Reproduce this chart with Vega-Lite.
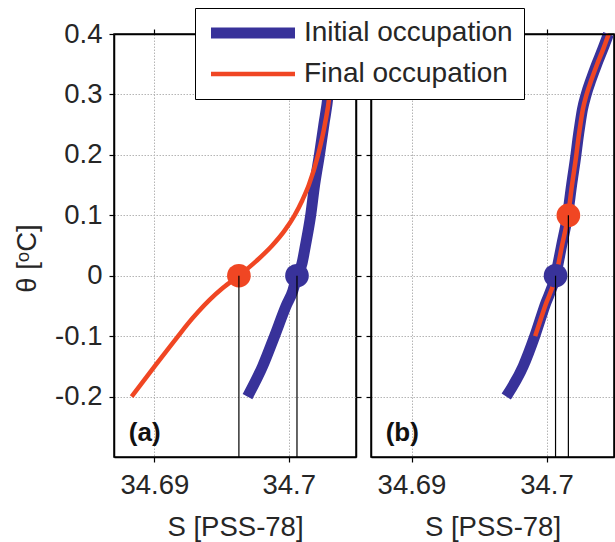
{
  "$schema": "https://vega.github.io/schema/vega-lite/v6.json",
  "padding": {"left": 12, "top": 7, "right": 0, "bottom": 0},
  "spacing": 15,
  "bounds": "flush",
  "background": "white",
  "config": {
    "font": "Liberation Sans",
    "view": {"stroke": "#000", "strokeWidth": 1.5},
    "axis": {
      "labelFont": "Liberation Sans", "titleFont": "Liberation Sans",
      "labelFontSize": 27.5, "titleFontSize": 27.5,
      "labelColor": "#262626", "titleColor": "#262626", "titleFontWeight": "normal",
      "tickColor": "#000", "tickSize": 5, "tickWidth": 1.2,
      "domain": true, "domainColor": "#000", "domainWidth": 1.5,
      "gridColor": "#b5b5b5", "gridDash": [1.5, 1.5], "gridWidth": 1, "labelPadding": 9
    }
  },
  "datasets": {
    "lines_a": [
      {"series": "Initial occupation", "S": 34.69693, "theta": -0.2},
      {"series": "Initial occupation", "S": 34.69805, "theta": -0.15},
      {"series": "Initial occupation", "S": 34.69894, "theta": -0.1},
      {"series": "Initial occupation", "S": 34.69980, "theta": -0.05},
      {"series": "Initial occupation", "S": 34.70030, "theta": -0.025},
      {"series": "Initial occupation", "S": 34.70061, "theta": 0},
      {"series": "Initial occupation", "S": 34.70098, "theta": 0.02},
      {"series": "Initial occupation", "S": 34.70124, "theta": 0.05},
      {"series": "Initial occupation", "S": 34.70163, "theta": 0.1},
      {"series": "Initial occupation", "S": 34.70192, "theta": 0.15},
      {"series": "Initial occupation", "S": 34.70228, "theta": 0.2},
      {"series": "Initial occupation", "S": 34.70261, "theta": 0.25},
      {"series": "Initial occupation", "S": 34.70293, "theta": 0.3},
      {"series": "Initial occupation", "S": 34.70312, "theta": 0.35},
      {"series": "Initial occupation", "S": 34.70325, "theta": 0.4},
      {"series": "Final occupation", "S": 34.68831, "theta": -0.2},
      {"series": "Final occupation", "S": 34.69002, "theta": -0.15},
      {"series": "Final occupation", "S": 34.69177, "theta": -0.1},
      {"series": "Final occupation", "S": 34.69247, "theta": -0.08},
      {"series": "Final occupation", "S": 34.69325, "theta": -0.06},
      {"series": "Final occupation", "S": 34.69411, "theta": -0.04},
      {"series": "Final occupation", "S": 34.69511, "theta": -0.02},
      {"series": "Final occupation", "S": 34.69629, "theta": 0},
      {"series": "Final occupation", "S": 34.69762, "theta": 0.025},
      {"series": "Final occupation", "S": 34.69877, "theta": 0.05},
      {"series": "Final occupation", "S": 34.69970, "theta": 0.075},
      {"series": "Final occupation", "S": 34.70043, "theta": 0.1},
      {"series": "Final occupation", "S": 34.70101, "theta": 0.125},
      {"series": "Final occupation", "S": 34.70149, "theta": 0.15},
      {"series": "Final occupation", "S": 34.70218, "theta": 0.2},
      {"series": "Final occupation", "S": 34.70268, "theta": 0.25},
      {"series": "Final occupation", "S": 34.70303, "theta": 0.3},
      {"series": "Final occupation", "S": 34.70321, "theta": 0.35},
      {"series": "Final occupation", "S": 34.70331, "theta": 0.4}
    ],
    "lines_b": [
      {"series": "Initial occupation", "S": 34.69702, "theta": -0.2},
      {"series": "Initial occupation", "S": 34.69827, "theta": -0.15},
      {"series": "Initial occupation", "S": 34.69913, "theta": -0.1},
      {"series": "Initial occupation", "S": 34.69987, "theta": -0.05},
      {"series": "Initial occupation", "S": 34.70067, "theta": 0},
      {"series": "Initial occupation", "S": 34.70112, "theta": 0.05},
      {"series": "Initial occupation", "S": 34.70156, "theta": 0.1},
      {"series": "Initial occupation", "S": 34.70186, "theta": 0.15},
      {"series": "Initial occupation", "S": 34.70218, "theta": 0.2},
      {"series": "Initial occupation", "S": 34.70232, "theta": 0.225},
      {"series": "Initial occupation", "S": 34.70248, "theta": 0.25},
      {"series": "Initial occupation", "S": 34.70266, "theta": 0.275},
      {"series": "Initial occupation", "S": 34.70294, "theta": 0.3},
      {"series": "Initial occupation", "S": 34.70331, "theta": 0.325},
      {"series": "Initial occupation", "S": 34.70372, "theta": 0.35},
      {"series": "Initial occupation", "S": 34.70417, "theta": 0.375},
      {"series": "Initial occupation", "S": 34.70459, "theta": 0.4},
      {"series": "Final occupation", "S": 34.69916, "theta": -0.1},
      {"series": "Final occupation", "S": 34.69990, "theta": -0.05},
      {"series": "Final occupation", "S": 34.70070, "theta": 0},
      {"series": "Final occupation", "S": 34.70115, "theta": 0.05},
      {"series": "Final occupation", "S": 34.70160, "theta": 0.1},
      {"series": "Final occupation", "S": 34.70189, "theta": 0.15},
      {"series": "Final occupation", "S": 34.70221, "theta": 0.2},
      {"series": "Final occupation", "S": 34.70235, "theta": 0.225},
      {"series": "Final occupation", "S": 34.70251, "theta": 0.25},
      {"series": "Final occupation", "S": 34.70269, "theta": 0.275},
      {"series": "Final occupation", "S": 34.70297, "theta": 0.3},
      {"series": "Final occupation", "S": 34.70334, "theta": 0.325},
      {"series": "Final occupation", "S": 34.70375, "theta": 0.35},
      {"series": "Final occupation", "S": 34.70420, "theta": 0.375},
      {"series": "Final occupation", "S": 34.70461, "theta": 0.4}
    ],
    "dots_a": [
      {"series": "Initial occupation", "S": 34.70061, "theta": 0},
      {"series": "Final occupation", "S": 34.69629, "theta": 0}
    ],
    "dots_b": [
      {"series": "Initial occupation", "S": 34.70067, "theta": 0},
      {"series": "Final occupation", "S": 34.70162, "theta": 0.1}
    ],
    "label_a": [{"label": "(a)", "S": 34.6881, "theta": -0.26}],
    "label_b": [{"label": "(b)", "S": 34.68809, "theta": -0.26}]
  },
  "hconcat": [
    {
      "width": 242, "height": 423,
      "resolve": {"axis": {"x": "independent", "y": "independent"}},
      "layer": [
        {
          "data": {"name": "lines_a"},
          "mark": {"type": "line", "interpolate": "monotone", "strokeCap": "butt"},
          "encoding": {
            "x": {"field": "S", "type": "quantitative", "scale": {"domain": [34.687, 34.705], "nice": false, "zero": false},
                  "axis": {"orient": "bottom", "values": [34.69, 34.7], "grid": true, "title": "S [PSS-78]", "labelExpr": "format(datum.value, '.2~f')", "titlePadding": 15}},
            "y": {"field": "theta", "type": "quantitative", "scale": {"domain": [-0.3, 0.4], "nice": false, "zero": false},
                  "axis": {"orient": "left", "values": [-0.2, -0.1, 0, 0.1, 0.2, 0.3, 0.4], "grid": true, "title": "θ [ᵒC]", "titleY": 224, "labelPadding": 7, "labelExpr": "replace(format(datum.value, '.1~f'), '\u2212', '-')", "titlePadding": 13}},
            "order": {"field": "theta", "type": "quantitative"},
            "color": {"field": "series", "type": "nominal", "title": null,
                      "scale": {"domain": ["Initial occupation", "Final occupation"], "range": ["#38329a", "#f04623"]},
                      "legend": {"orient": "none", "legendX": 81, "legendY": -26, "direction": "vertical", "symbolType": "M-1.8,0H15", "symbolSize": 100, "labelFontSize": 28, "labelFont": "Liberation Sans", "labelColor": "#262626", "labelOffset": 70, "strokeColor": "#000", "fillColor": "white", "padding": 11, "labelLimit": 400, "rowPadding": 5}},
            "strokeWidth": {"field": "series", "type": "nominal", "title": null,
                      "scale": {"domain": ["Initial occupation", "Final occupation"], "range": [11, 4.5]},
                      "legend": {"orient": "none", "legendX": 81, "legendY": -26, "direction": "vertical", "symbolType": "M-1.8,0H15", "symbolSize": 100, "labelFontSize": 28, "labelFont": "Liberation Sans", "labelColor": "#262626", "labelOffset": 70, "strokeColor": "#000", "fillColor": "white", "padding": 11, "labelLimit": 400, "rowPadding": 5}}
          }
        },
        {
          "data": {"name": "dots_a"},
          "mark": {"type": "circle", "size": 560, "opacity": 1},
          "encoding": {
            "x": {"field": "S", "type": "quantitative", "axis": null},
            "y": {"field": "theta", "type": "quantitative", "axis": null},
            "color": {"field": "series", "type": "nominal", "legend": null}
          }
        },
        {
          "data": {"name": "dots_a"},
          "mark": {"type": "rule", "color": "#000", "strokeWidth": 1.2},
          "encoding": {
            "x": {"field": "S", "type": "quantitative", "axis": {"orient": "top", "values": [34.69, 34.7], "labels": false, "grid": false, "title": null, "zindex": 1}},
            "y": {"field": "theta", "type": "quantitative", "axis": {"orient": "right", "values": [-0.2, -0.1, 0, 0.1, 0.2, 0.3, 0.4], "labels": false, "grid": false, "title": null, "zindex": 1}},
            "y2": {"datum": -0.3}
          }
        },
        {
          "data": {"name": "label_a"},
          "mark": {"type": "text", "align": "left", "baseline": "middle", "fontSize": 26, "fontWeight": "bold", "font": "Liberation Sans", "color": "#111"},
          "encoding": {
            "x": {"field": "S", "type": "quantitative", "axis": null},
            "y": {"field": "theta", "type": "quantitative", "axis": null},
            "text": {"field": "label"}
          }
        }
      ]
    },
    {
      "width": 243, "height": 423,
      "resolve": {"axis": {"x": "independent", "y": "independent"}},
      "layer": [
        {
          "data": {"name": "lines_b"},
          "mark": {"type": "line", "interpolate": "monotone", "strokeCap": "butt"},
          "encoding": {
            "x": {"field": "S", "type": "quantitative", "scale": {"domain": [34.687, 34.705], "nice": false, "zero": false},
                  "axis": {"orient": "bottom", "values": [34.69, 34.7], "grid": true, "title": "S [PSS-78]", "labelExpr": "format(datum.value, '.2~f')", "titlePadding": 15}},
            "y": {"field": "theta", "type": "quantitative", "scale": {"domain": [-0.3, 0.4], "nice": false, "zero": false},
                  "axis": {"orient": "left", "values": [-0.2, -0.1, 0, 0.1, 0.2, 0.3, 0.4], "grid": true, "title": null, "labels": false}},
            "order": {"field": "theta", "type": "quantitative"},
            "color": {"field": "series", "type": "nominal", "title": null,
                      "scale": {"domain": ["Initial occupation", "Final occupation"], "range": ["#38329a", "#f04623"]},
                      "legend": {"orient": "none", "legendX": 81, "legendY": -26, "direction": "vertical", "symbolType": "M-1.8,0H15", "symbolSize": 100, "labelFontSize": 28, "labelFont": "Liberation Sans", "labelColor": "#262626", "labelOffset": 70, "strokeColor": "#000", "fillColor": "white", "padding": 11, "labelLimit": 400, "rowPadding": 5}},
            "strokeWidth": {"field": "series", "type": "nominal", "title": null,
                      "scale": {"domain": ["Initial occupation", "Final occupation"], "range": [11, 4.5]},
                      "legend": {"orient": "none", "legendX": 81, "legendY": -26, "direction": "vertical", "symbolType": "M-1.8,0H15", "symbolSize": 100, "labelFontSize": 28, "labelFont": "Liberation Sans", "labelColor": "#262626", "labelOffset": 70, "strokeColor": "#000", "fillColor": "white", "padding": 11, "labelLimit": 400, "rowPadding": 5}}
          }
        },
        {
          "data": {"name": "dots_b"},
          "mark": {"type": "circle", "size": 560, "opacity": 1},
          "encoding": {
            "x": {"field": "S", "type": "quantitative", "axis": null},
            "y": {"field": "theta", "type": "quantitative", "axis": null},
            "color": {"field": "series", "type": "nominal", "legend": null}
          }
        },
        {
          "data": {"name": "dots_b"},
          "mark": {"type": "rule", "color": "#000", "strokeWidth": 1.2},
          "encoding": {
            "x": {"field": "S", "type": "quantitative", "axis": {"orient": "top", "values": [34.69, 34.7], "labels": false, "grid": false, "title": null, "zindex": 1}},
            "y": {"field": "theta", "type": "quantitative", "axis": {"orient": "right", "values": [-0.2, -0.1, 0, 0.1, 0.2, 0.3, 0.4], "labels": false, "grid": false, "title": null, "zindex": 1}},
            "y2": {"datum": -0.3}
          }
        },
        {
          "data": {"name": "label_b"},
          "mark": {"type": "text", "align": "left", "baseline": "middle", "fontSize": 26, "fontWeight": "bold", "font": "Liberation Sans", "color": "#111"},
          "encoding": {
            "x": {"field": "S", "type": "quantitative", "axis": null},
            "y": {"field": "theta", "type": "quantitative", "axis": null},
            "text": {"field": "label"}
          }
        }
      ]
    }
  ]
}
